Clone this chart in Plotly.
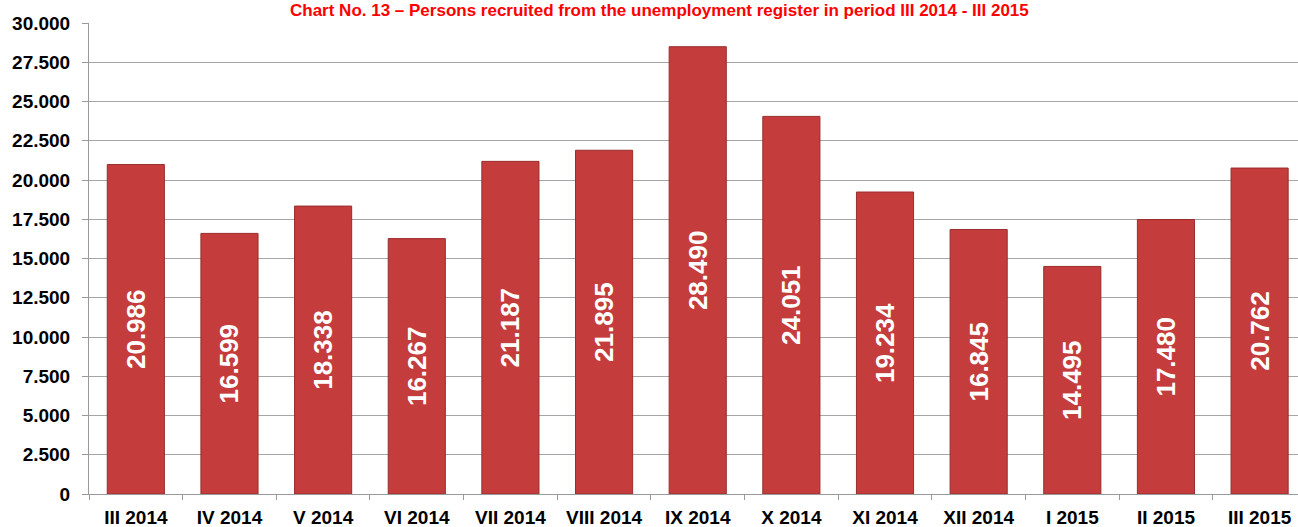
import plotly.graph_objects as go

categories = ["III 2014", "IV 2014", "V 2014", "VI 2014", "VII 2014", "VIII 2014", "IX 2014",
              "X 2014", "XI 2014", "XII 2014", "I 2015", "II 2015", "III 2015"]
values = [20986, 16599, 18338, 16267, 21187, 21895, 28490, 24051, 19234, 16845, 14495, 17480, 20762]
y_ticks = [0, 2500, 5000, 7500, 10000, 12500, 15000, 17500, 20000, 22500, 25000, 27500, 30000]
title_text = "Chart No. 13 – Persons recruited from the unemployment register in period III 2014 - III 2015"

fig = go.Figure()
fig.add_trace(go.Bar(
    x=categories, y=values,
    marker=dict(color="#c43c3c", line=dict(color="#9a2c2c", width=1)),
    texttemplate="%{y:,}", textposition="inside", insidetextanchor="middle",
    textangle=-90,
    textfont=dict(family="Liberation Sans, Arial", size=26, color="white", weight="bold"),
    cliponaxis=False,
))

gray = "#9a9a9a"
fig.update_layout(
    width=1298, height=527,
    margin=dict(l=89, r=0, t=23, b=33),
    paper_bgcolor="white", plot_bgcolor="white",
    separators=",.",
    bargap=0.39,
    showlegend=False,
    font=dict(family="Liberation Sans, Arial", size=19, color="black", weight="bold"),
    xaxis=dict(
        range=[-0.5, 12.41], showline=True, linecolor=gray, linewidth=1,
        ticks="outside", tickson="boundaries", ticklen=5, tickcolor=gray,
        showgrid=False, tickfont=dict(size=19, weight="bold"), ticklabelstandoff=6,
    ),
    yaxis=dict(
        range=[0, 30000], tickvals=y_ticks, tickformat=",",
        showline=True, linecolor=gray, linewidth=1,
        ticks="outside", ticklen=6, tickcolor=gray,
        showgrid=True, gridcolor="#a6a6a6", gridwidth=1, zeroline=False,
        tickfont=dict(size=19, weight="bold"), ticklabelstandoff=8,
    ),
    annotations=[dict(
        text=title_text, xref="paper", yref="paper", x=0.472, y=1.0485,
        xanchor="center", yanchor="top", showarrow=False, borderpad=0,
        font=dict(family="Liberation Sans, Arial", size=17, color="#ff0000", weight="bold"),
    )],
)

fig.write_html("out.html")
